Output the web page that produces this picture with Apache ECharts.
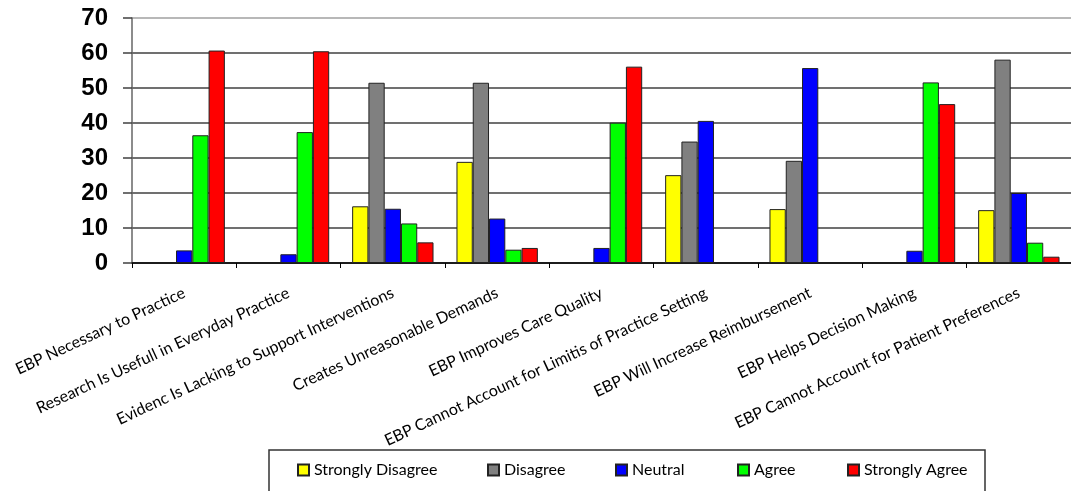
<!DOCTYPE html>
<html>
<head>
<meta charset="utf-8">
<script src="https://cdn.jsdelivr.net/npm/echarts@6/dist/echarts.min.js"></script>
<style>
  html, body { margin: 0; padding: 0; background: #fff; }
  #chart { width: 1071px; height: 491px; }
</style>
</head>
<body>
<div id="chart"></div>
<script>
// Survey statements (x-axis categories)
const categories = [
  'EBP Necessary to Practice',
  'Research Is Usefull in Everyday Practice',
  'Evidenc Is Lacking to Support Interventions',
  'Creates Unreasonable Demands',
  'EBP Improves Care Quality',
  'EBP Cannot Account for Limitis of Practice Setting',
  'EBP Will Increase Reimbursement',
  'EBP Helps Decision Making',
  'EBP Cannot Account for Patient Preferences'
];

// Percent of respondents per response level (null = no responses)
const stronglyDisagree = [null, null, 16.2, 28.9, null, 25.1, 15.4, null, 15.1];
const disagree         = [null, null, 51.5, 51.5, null, 34.7, 29.2, null, 58.1];
const neutral          = [3.6, 2.5, 15.5, 12.7, 4.3, 40.6, 55.7, 3.5, 20.0];
const agree            = [36.5, 37.4, 11.3, 3.8, 40.1, null, null, 51.6, 5.8];
const stronglyAgree    = [60.7, 60.5, 5.9, 4.3, 56.1, null, null, 45.4, 1.8];

const yTicks = { min: 0, max: 70, step: 10 };

const seriesDefs = [
  { name: 'Strongly Disagree', data: stronglyDisagree, color: '#FFFF00' },
  { name: 'Disagree',          data: disagree,         color: '#808080' },
  { name: 'Neutral',           data: neutral,          color: '#0000FF' },
  { name: 'Agree',             data: agree,            color: '#00FF00' },
  { name: 'Strongly Agree',    data: stronglyAgree,    color: '#FF0000' }
];

// one legend entry per response level, spread across the framed box
const legendLeft = [297, 487, 615, 737, 847];

const chart = echarts.init(document.getElementById('chart'), null, { renderer: 'canvas' });

const gridLineColors = [];
for (let v = yTicks.min; v <= yTicks.max; v += yTicks.step) {
  gridLineColors.push(v === yTicks.max ? '#a0a0a0' : '#404040');
}

chart.setOption({
  animation: false,
  backgroundColor: '#ffffff',
  grid: { left: 132, right: -16, top: 18, bottom: 228, containLabel: false },
  xAxis: {
    type: 'category',
    data: categories,
    boundaryGap: true,
    axisLine: { show: true, lineStyle: { color: '#000', width: 1.5 } },
    axisTick: { show: true, length: 5, lineStyle: { color: '#000' } },
    axisLabel: {
      interval: 0,
      rotate: 25,
      margin: 29,
      color: '#000',
      fontFamily: 'Lato',
      fontSize: 16
    }
  },
  yAxis: {
    type: 'value',
    min: yTicks.min,
    max: yTicks.max,
    interval: yTicks.step,
    axisLine: { show: true, lineStyle: { color: '#666', width: 1.5 } },
    axisTick: { show: true, length: 9, lineStyle: { color: '#404040', width: 1.5 } },
    axisLabel: {
      margin: 24,
      color: '#000',
      fontFamily: 'Liberation Sans',
      fontWeight: 'bold',
      fontSize: 24
    },
    splitLine: { show: true, lineStyle: { color: gridLineColors, width: 1.5 } }
  },
  legend: seriesDefs.map((s, i) => ({
    data: [s.name],
    left: legendLeft[i],
    top: 462,
    padding: 0,
    icon: 'rect',
    itemWidth: 11,
    itemHeight: 11,
    itemGap: 0,
    selectedMode: false,
    textStyle: { fontFamily: 'Lato', fontSize: 16, color: '#000' }
  })),
  graphic: [{
    type: 'rect',
    shape: { x: 269, y: 450, width: 716, height: 60 },
    style: { fill: 'none', stroke: '#333', lineWidth: 1.5 },
    silent: true
  }],
  series: seriesDefs.map(s => ({
    name: s.name,
    type: 'bar',
    data: s.data,
    barGap: '0%',
    barCategoryGap: '22%',
    itemStyle: { color: s.color, borderColor: '#222', borderWidth: 1 }
  }))
});
</script>
</body>
</html>
